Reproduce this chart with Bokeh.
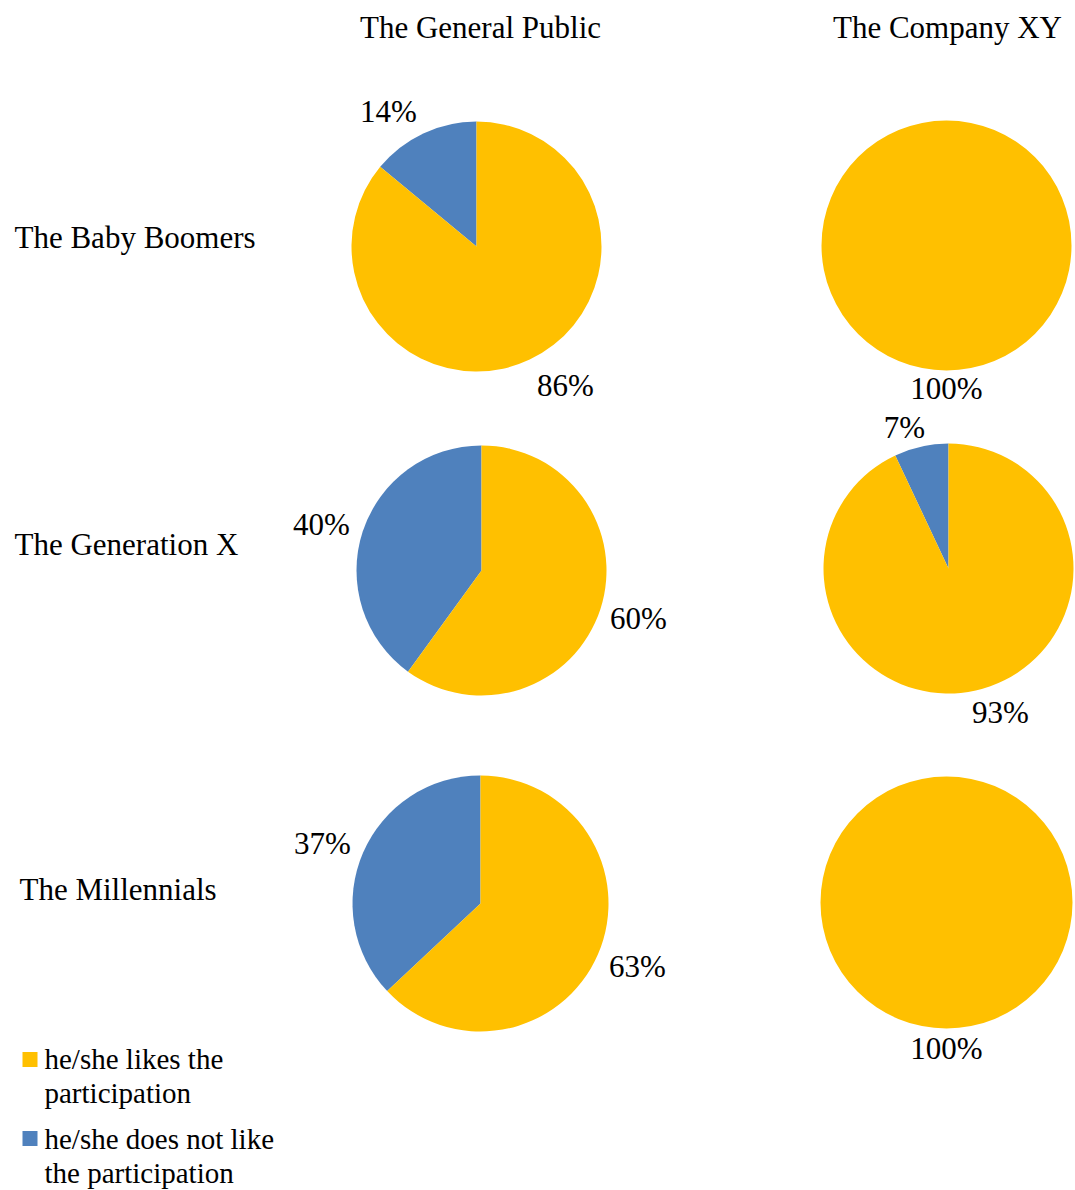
from bokeh.plotting import figure
from bokeh.models import Range1d
from bokeh.embed import file_html
from bokeh.resources import INLINE
from bokeh.core.properties import value
import math

# ---- data ----
groups = ["The Baby Boomers", "The Generation X", "The Millennials"]
panels = ["The General Public", "The Company XY"]
series = ["he/she likes the participation", "he/she does not like the participation"]
likes_public = [86, 60, 63]
dislikes_public = [14, 40, 37]
likes_company = [100, 93, 100]
dislikes_company = [0, 7, 0]

# ---- layout (image pixel coordinates) ----
W, H = 1075, 1190
FONT = "Liberation Serif"
YELLOW = "#FFC000"
BLUE = "#4F81BD"

def Y(img_y):
    return H - img_y

p = figure(width=W, height=H, output_backend="svg", toolbar_location=None,
           x_range=Range1d(0, W), y_range=Range1d(0, H),
           min_border=0, outline_line_color=None)
p.axis.visible = False
p.grid.visible = False
p.background_fill_color = "white"
p.border_fill_color = "white"

centers = {
    (0, 0): (476, 246, 125), (0, 1): (946, 245, 125),
    (1, 0): (481, 570, 125), (1, 1): (948, 568, 125),
    (2, 0): (480, 903, 128), (2, 1): (946, 902, 126),
}
like_lbl = {
    (0, 0): (565, 385), (0, 1): (946, 388),
    (1, 0): (638, 618), (1, 1): (1000, 712),
    (2, 0): (637, 966), (2, 1): (946, 1048),
}
dis_lbl = {
    (0, 0): (388, 111), (1, 0): (321, 524), (2, 0): (322, 843),
    (1, 1): (904, 427),
}

data = {0: (likes_public, dislikes_public), 1: (likes_company, dislikes_company)}

PCT_SIZE = "31px"
for col in (0, 1):
    likes, dislikes = data[col]
    for row in range(3):
        cx, cy, r = centers[(row, col)]
        lk, dk = likes[row], dislikes[row]
        total = lk + dk
        a0 = math.pi / 2
        a_blue = a0 + 2 * math.pi * dk / total
        if dk > 0:
            p.wedge(x=[cx], y=[Y(cy)], radius=r, start_angle=a0, end_angle=a_blue,
                    fill_color=BLUE, line_color=None)
            p.wedge(x=[cx], y=[Y(cy)], radius=r, start_angle=a_blue, end_angle=a0 + 2 * math.pi,
                    fill_color=YELLOW, line_color=None)
            lx, ly = dis_lbl[(row, col)]
            p.text(x=[lx], y=[Y(ly)], text=[f"{dk}%"], text_font=value(FONT),
                   text_font_size=PCT_SIZE, text_align="center", text_baseline="middle",
                   text_color="black")
        else:
            p.circle(x=[cx], y=[Y(cy)], radius=r, fill_color=YELLOW, line_color=None)
        lx, ly = like_lbl[(row, col)]
        p.text(x=[lx], y=[Y(ly)], text=[f"{lk}%"], text_font=value(FONT),
               text_font_size=PCT_SIZE, text_align="center", text_baseline="middle",
               text_color="black")

# column titles
for (tx, ty), t in zip([(480, 27), (947, 27)], panels):
    p.text(x=[tx], y=[Y(ty)], text=[t], text_font=value(FONT), text_font_size="31px",
           text_align="center", text_baseline="middle", text_color="black")

# row labels
for (tx, ty), t in zip([(14, 237), (14, 544), (19, 889)], groups):
    p.text(x=[tx], y=[Y(ty)], text=[t], text_font=value(FONT), text_font_size="31px",
           text_align="left", text_baseline="middle", text_color="black")

# legend
p.rect(x=[29.5], y=[Y(1059)], width=15, height=15, fill_color=YELLOW, line_color=None)
p.rect(x=[29.5], y=[Y(1138)], width=15, height=15, fill_color=BLUE, line_color=None)
leg_lines = [("he/she likes the", 1058), ("participation", 1092),
             ("he/she does not like", 1138), ("the participation", 1172)]
for t, ly in leg_lines:
    p.text(x=[44], y=[Y(ly)], text=[t], text_font=value(FONT), text_font_size="29px",
           text_align="left", text_baseline="middle", text_color="black")

open("out.html", "w").write(file_html(p, INLINE))
